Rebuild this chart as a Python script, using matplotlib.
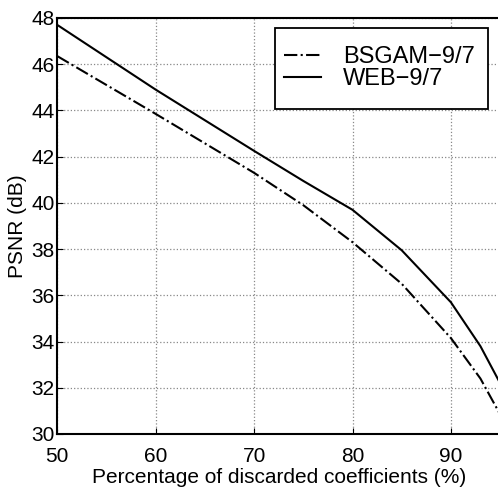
import matplotlib
matplotlib.use("Agg")
import matplotlib.pyplot as plt
from matplotlib.patches import Rectangle

x_pct = [50, 60, 70, 75, 80, 85, 90, 93, 95]
bsgam = [46.35, 43.85, 41.3, 39.9, 38.3, 36.5, 34.15, 32.4, 30.85]
web = [47.7, 44.9, 42.25, 40.95, 39.7, 37.95, 35.7, 33.8, 32.2]
xticks = [50, 60, 70, 80, 90]
yticks = [30, 32, 34, 36, 38, 40, 42, 44, 46, 48]

W, H = 498, 492
plt.rcParams['font.family'] = ['Liberation Sans', 'DejaVu Sans']
fig = plt.figure(figsize=(W/100, H/100), dpi=100)
ax = fig.add_axes([57.3/W, 58/H, 442.8/W, 416/H])
ax.plot(x_pct, bsgam, color='black', linestyle='-.', linewidth=1.5, label='BSGAM\u22129/7')
ax.plot(x_pct, web, color='black', linestyle='-', linewidth=1.5, label='WEB\u22129/7')
ax.set_xlim(50, 95)
ax.set_ylim(30, 48)
ax.set_xticks(xticks)
ax.set_yticks(yticks)
ax.tick_params(direction='in', labelsize=15, length=4)
ax.tick_params(axis='x', pad=9)
ax.tick_params(axis='y', pad=2)
ax.grid(True, linestyle=':', color='#888888', linewidth=0.9)
for s in ax.spines.values():
    s.set_linewidth(1.5)
ax.set_xlabel('Percentage of discarded coefficients (%)', fontsize=15, labelpad=2)
ax.set_ylabel('PSNR (dB)', fontsize=15, labelpad=3)

# legend frame
ax.add_patch(Rectangle((275/W, 1 - 109/H), (488-275)/W, (109-28)/H, transform=fig.transFigure,
                       facecolor='white', edgecolor='black', linewidth=1.3, zorder=4, clip_on=False))
leg = ax.legend(loc='upper left', bbox_to_anchor=(284/W, 1 - 46/H), bbox_transform=fig.transFigure,
                borderaxespad=0, borderpad=0, fontsize=17, frameon=False,
                handlelength=1.55, labelspacing=0.0, handletextpad=0.95)
leg.set_zorder(5)
fig.savefig('out.png', dpi=100)
